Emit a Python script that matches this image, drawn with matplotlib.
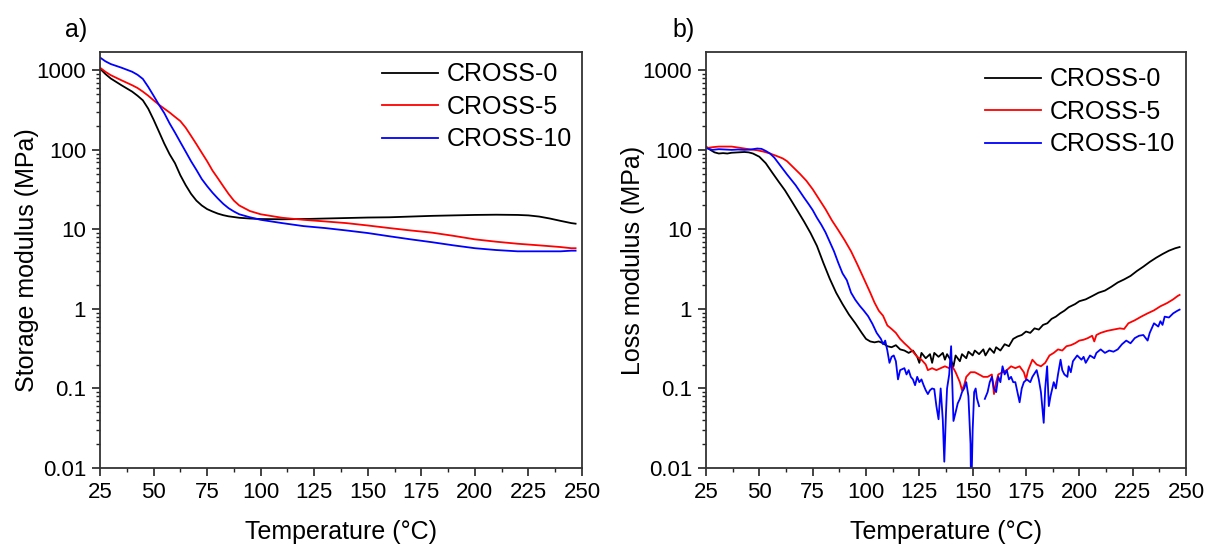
import numpy as np
import matplotlib
matplotlib.use("Agg")
import matplotlib.pyplot as plt
from matplotlib.ticker import FixedLocator, LogLocator, NullFormatter, FixedFormatter, MultipleLocator

plt.rcParams['font.family'] = ['Liberation Sans', 'DejaVu Sans']

labels = ["CROSS-0", "CROSS-5", "CROSS-10"]
colors = ["#000000", "#ff0000", "#0000ff"]

# ---- Storage modulus (panel a) ----
T_storage = [25, 27.5, 30, 35, 40, 42.5, 45, 47.5, 50, 52.5, 55, 57.5, 60, 62.5, 65, 67.5, 70, 72.5,
             75, 77.5, 80, 82.5, 85, 87.5, 90, 95, 100, 110, 120, 130, 140, 150, 160, 170, 180,
             190, 200, 210, 220, 225, 230, 235, 240, 245, 247]
E_storage_0 = [1050, 900, 790, 650, 540, 480, 420, 330, 240, 170, 120, 88, 68, 48, 36, 28, 23, 20,
               18, 16.8, 15.8, 15.1, 14.6, 14.3, 14.0, 13.7, 13.5, 13.4, 13.5, 13.7, 13.9, 14.1, 14.2,
               14.5, 14.8, 15.0, 15.2, 15.3, 15.2, 15.0, 14.5, 13.7, 12.8, 12.0, 11.8]
E_storage_5 = [1080, 960, 870, 750, 650, 600, 540, 480, 420, 370, 330, 295, 260, 230, 190, 150, 118, 92,
               72, 55, 44, 35, 28, 23, 20, 17, 15.5, 14, 13.2, 12.6, 12.0, 11.2, 10.4,
               9.7, 9.1, 8.3, 7.5, 7.0, 6.6, 6.45, 6.3, 6.15, 6.0, 5.8, 5.8]
E_storage_10 = [1450, 1300, 1200, 1080, 960, 880, 780, 620, 480, 370, 290, 215, 165, 125, 95, 72, 56, 43,
                35, 29, 24.5, 21, 18.5, 16.8, 15.5, 14.2, 13.2, 12.0, 11.0, 10.4, 9.7, 9.0, 8.2,
                7.5, 6.9, 6.3, 5.8, 5.5, 5.3, 5.3, 5.3, 5.3, 5.3, 5.4, 5.4]

# ---- Loss modulus (panel b) ----
T_loss_0 = [25, 27, 29, 31, 33, 35, 37, 40, 43, 45, 47, 50, 53, 56, 59, 62, 65, 68, 71, 74, 77, 80, 83,
            86, 89, 92, 95, 98, 100, 102, 104, 106, 108, 110, 112, 114, 116, 118, 120, 122, 124, 125,
            126, 128, 130, 131, 132, 134, 136, 137, 138, 140, 141, 142, 144, 145, 147, 148, 150, 151,
            153, 155, 156, 158, 160, 161, 163, 165, 167, 169, 171, 173, 175, 177, 179, 181, 183, 185,
            187, 189, 191, 193, 195, 198, 200, 203, 206, 209, 212, 215, 218, 221, 224, 227, 230, 233,
            236, 239, 242, 245, 247]
E_loss_0 = [110, 100, 93, 90, 91, 90, 92, 93, 94, 93, 90, 82, 68, 52, 40, 31, 23, 17, 12.5, 9, 6.2, 3.8,
            2.4, 1.6, 1.15, 0.85, 0.66, 0.5, 0.42, 0.39, 0.38, 0.39, 0.37, 0.34, 0.33, 0.35, 0.31, 0.30,
            0.28, 0.30, 0.25, 0.21, 0.28, 0.24, 0.27, 0.21, 0.28, 0.25, 0.28, 0.23, 0.27, 0.22, 0.19,
            0.26, 0.22, 0.27, 0.24, 0.29, 0.26, 0.30, 0.27, 0.31, 0.26, 0.32, 0.28, 0.33, 0.30, 0.36,
            0.34, 0.42, 0.45, 0.47, 0.52, 0.50, 0.57, 0.55, 0.63, 0.66, 0.75, 0.80, 0.88, 0.95, 1.05,
            1.15, 1.25, 1.32, 1.45, 1.6, 1.7, 1.9, 2.15, 2.35, 2.6, 3.0, 3.4, 3.9, 4.4, 4.9, 5.4, 5.8, 6.0]

T_loss_5 = [25, 28, 31, 34, 37, 40, 43, 46, 49, 52, 55, 58, 61, 63, 66, 69, 72, 75, 78, 81, 84, 87, 90,
            93, 96, 99, 102, 104, 106, 108, 110, 112, 114, 116, 118, 120, 122, 124, 126, 128, 129, 131,
            133, 135, 137, 139, 140, 142, 144, 145, 146, 147, 149, 151, 153, 155, 157, 159, 160, 161,
            162, 164, 166, 168, 170, 172, 174, 175, 176, 178, 180, 182, 184, 186, 188, 190, 192, 194,
            196, 198, 200, 202, 204, 206, 207, 208, 210, 213, 216, 219, 221, 223, 226, 229, 232, 235,
            238, 241, 244, 246, 247]
E_loss_5 = [105, 108, 110, 110, 110, 107, 104, 101, 99, 95, 90, 84, 78, 72, 60, 50, 41, 32, 24, 18, 13,
            9.8, 7.3, 5.3, 3.6, 2.4, 1.6, 1.2, 0.95, 0.82, 0.62, 0.56, 0.50, 0.42, 0.37, 0.33, 0.29,
            0.25, 0.23, 0.20, 0.17, 0.18, 0.17, 0.18, 0.19, 0.18, 0.20, 0.16, 0.12, 0.095, 0.11, 0.14,
            0.16, 0.16, 0.15, 0.14, 0.14, 0.15, 0.085, 0.12, 0.15, 0.16, 0.17, 0.19, 0.18, 0.19, 0.16,
            0.13, 0.17, 0.23, 0.20, 0.19, 0.21, 0.26, 0.28, 0.31, 0.30, 0.34, 0.35, 0.37, 0.40, 0.41,
            0.43, 0.46, 0.39, 0.47, 0.50, 0.53, 0.55, 0.57, 0.56, 0.66, 0.72, 0.80, 0.88, 0.96, 1.08,
            1.18, 1.32, 1.45, 1.5]

T_loss_10 = [25, 28, 31, 34, 37, 40, 43, 46, 49, 51, 53, 55, 57, 59, 61, 63, 65, 67, 69, 71, 73, 75, 77,
             79, 81, 83, 85, 87, 89, 91, 93, 95, 97, 99, 101, 103, 105, 107, 108, 109, 110, 111, 112,
             113, 114, 115, 116, 118, 119, 120, 121, 122, 123, 124, 125, 126, 127, 128, 129, 130, 131,
             132, 133, 134, 135, 136, 136.7, 137.5, 138, 139, 139.9, 140.5, 141, 142, 143, 144, 145,
             146, 147, 148, 149, 149.3, 150, 150.7, 151.4, 152, 153, 154, 155.7, 157, 158, 159, 160,
             161, 162, 163, 164, 165, 166, 167, 168, 169, 170, 171, 172, 173, 174, 175.4, 177, 178, 180,
             181, 182, 183.3, 184, 184.9, 185.7, 186.5, 188, 189, 190, 191.2, 192, 193, 194.4, 195, 196,
             197, 199, 201, 202, 203, 205, 207, 208, 210, 212, 214, 216, 218, 220, 222, 224, 226, 228,
             230, 232, 233, 235, 237, 238, 239, 240, 242, 244, 246, 247]
E_loss_10 = [105, 100, 102, 101, 100, 101, 100, 101, 104, 103, 97, 90, 80, 68, 58, 49, 42, 36, 30, 25,
             21, 17.5, 14, 11.5, 9.2, 7, 5.3, 3.8, 2.8, 2.3, 1.6, 1.3, 1.1, 0.95, 0.81, 0.65, 0.5, 0.42,
             0.36, 0.40, 0.30, 0.21, 0.25, 0.26, 0.22, 0.13, 0.17, 0.18, 0.15, 0.17, 0.14, 0.13, 0.11,
             0.14, 0.12, 0.13, 0.11, 0.095, 0.085, 0.095, 0.10, 0.098, 0.06, 0.041, 0.1, 0.04, 0.012,
             0.05, 0.1, 0.15, 0.34, 0.1, 0.039, 0.05, 0.065, 0.074, 0.09, 0.1, 0.12, 0.08, 0.02, 0.004,
             0.03, 0.09, 0.1, 0.075, 0.06, np.nan, 0.074, 0.09, 0.12, 0.14, 0.10, 0.09, 0.14, 0.12, 0.19,
             0.15, 0.17, 0.13, 0.14, 0.12, 0.12, 0.09, 0.067, 0.1, 0.12, 0.13, 0.12, 0.14, 0.17, 0.13,
             0.09, 0.037, 0.1, 0.19, 0.06, 0.08, 0.12, 0.1, 0.15, 0.23, 0.17, 0.15, 0.14, 0.19, 0.16,
             0.22, 0.26, 0.23, 0.25, 0.21, 0.26, 0.24, 0.28, 0.31, 0.28, 0.30, 0.29, 0.31, 0.36, 0.40,
             0.37, 0.43, 0.46, 0.47, 0.40, 0.50, 0.66, 0.60, 0.70, 0.63, 0.80, 0.78, 0.88, 0.95, 0.98]

ytick_vals = [0.01, 0.1, 1, 10, 100, 1000]
ytick_labels = ["0.01", "0.1", "1", "10", "100", "1000"]
xtick_vals = [25, 50, 75, 100, 125, 150, 175, 200, 225, 250]

fig = plt.figure(figsize=(12.09, 5.46), dpi=100)
ax1 = fig.add_axes([100/1209, 1-468/546, 482/1209, 416/546])
ax2 = fig.add_axes([706/1209, 1-468/546, 480/1209, 416/546])

def style(ax, ylabel):
    ax.set_yscale('log')
    ax.set_xlim(25, 250)
    ax.set_ylim(0.01, 1700)
    ax.yaxis.set_major_locator(FixedLocator(ytick_vals))
    ax.yaxis.set_major_formatter(FixedFormatter(ytick_labels))
    ax.yaxis.set_minor_locator(LogLocator(base=10, subs=np.arange(2, 10), numticks=20))
    ax.yaxis.set_minor_formatter(NullFormatter())
    ax.xaxis.set_major_locator(FixedLocator(xtick_vals))
    ax.xaxis.set_minor_locator(MultipleLocator(12.5))
    ax.tick_params(which='major', direction='out', length=6, width=1.2, labelsize=16,
                   color='#222222', top=False, right=False, pad=4)
    ax.tick_params(which='minor', direction='out', length=3, width=1.0, color='#222222',
                   top=False, right=False)
    for s in ax.spines.values():
        s.set_linewidth(1.3)
        s.set_color('#333333')
    ax.set_xlabel("Temperature (°C)", fontsize=18, labelpad=12)
    ax.set_ylabel(ylabel, fontsize=18, labelpad=-2)

for y, c, l in zip([E_storage_0, E_storage_5, E_storage_10], colors, labels):
    ax1.plot(T_storage, y, color=c, lw=1.3, label=l)
for t, y, c, l in zip([T_loss_0, T_loss_5, T_loss_10], [E_loss_0, E_loss_5, E_loss_10], colors, labels):
    ax2.plot(t, y, color=c, lw=1.3, label=l)

style(ax1, "Storage modulus (MPa)")
style(ax2, "Loss modulus (MPa)")

for ax, x0, y0 in [(ax1, 0.585, 0.975), (ax2, 0.581, 0.963)]:
    ax.legend(loc='upper left', bbox_to_anchor=(x0, y0), frameon=False, fontsize=18,
              handlelength=2.25, handletextpad=0.35, labelspacing=0.34, borderpad=0,
              borderaxespad=0)

fig.text(65/1209, 1-30/546, "a)", fontsize=18, va='center', ha='left')
fig.text(672/1209, 1-30/546, "b)", fontsize=18, va='center', ha='left')

fig.savefig("out.png", dpi=100)
